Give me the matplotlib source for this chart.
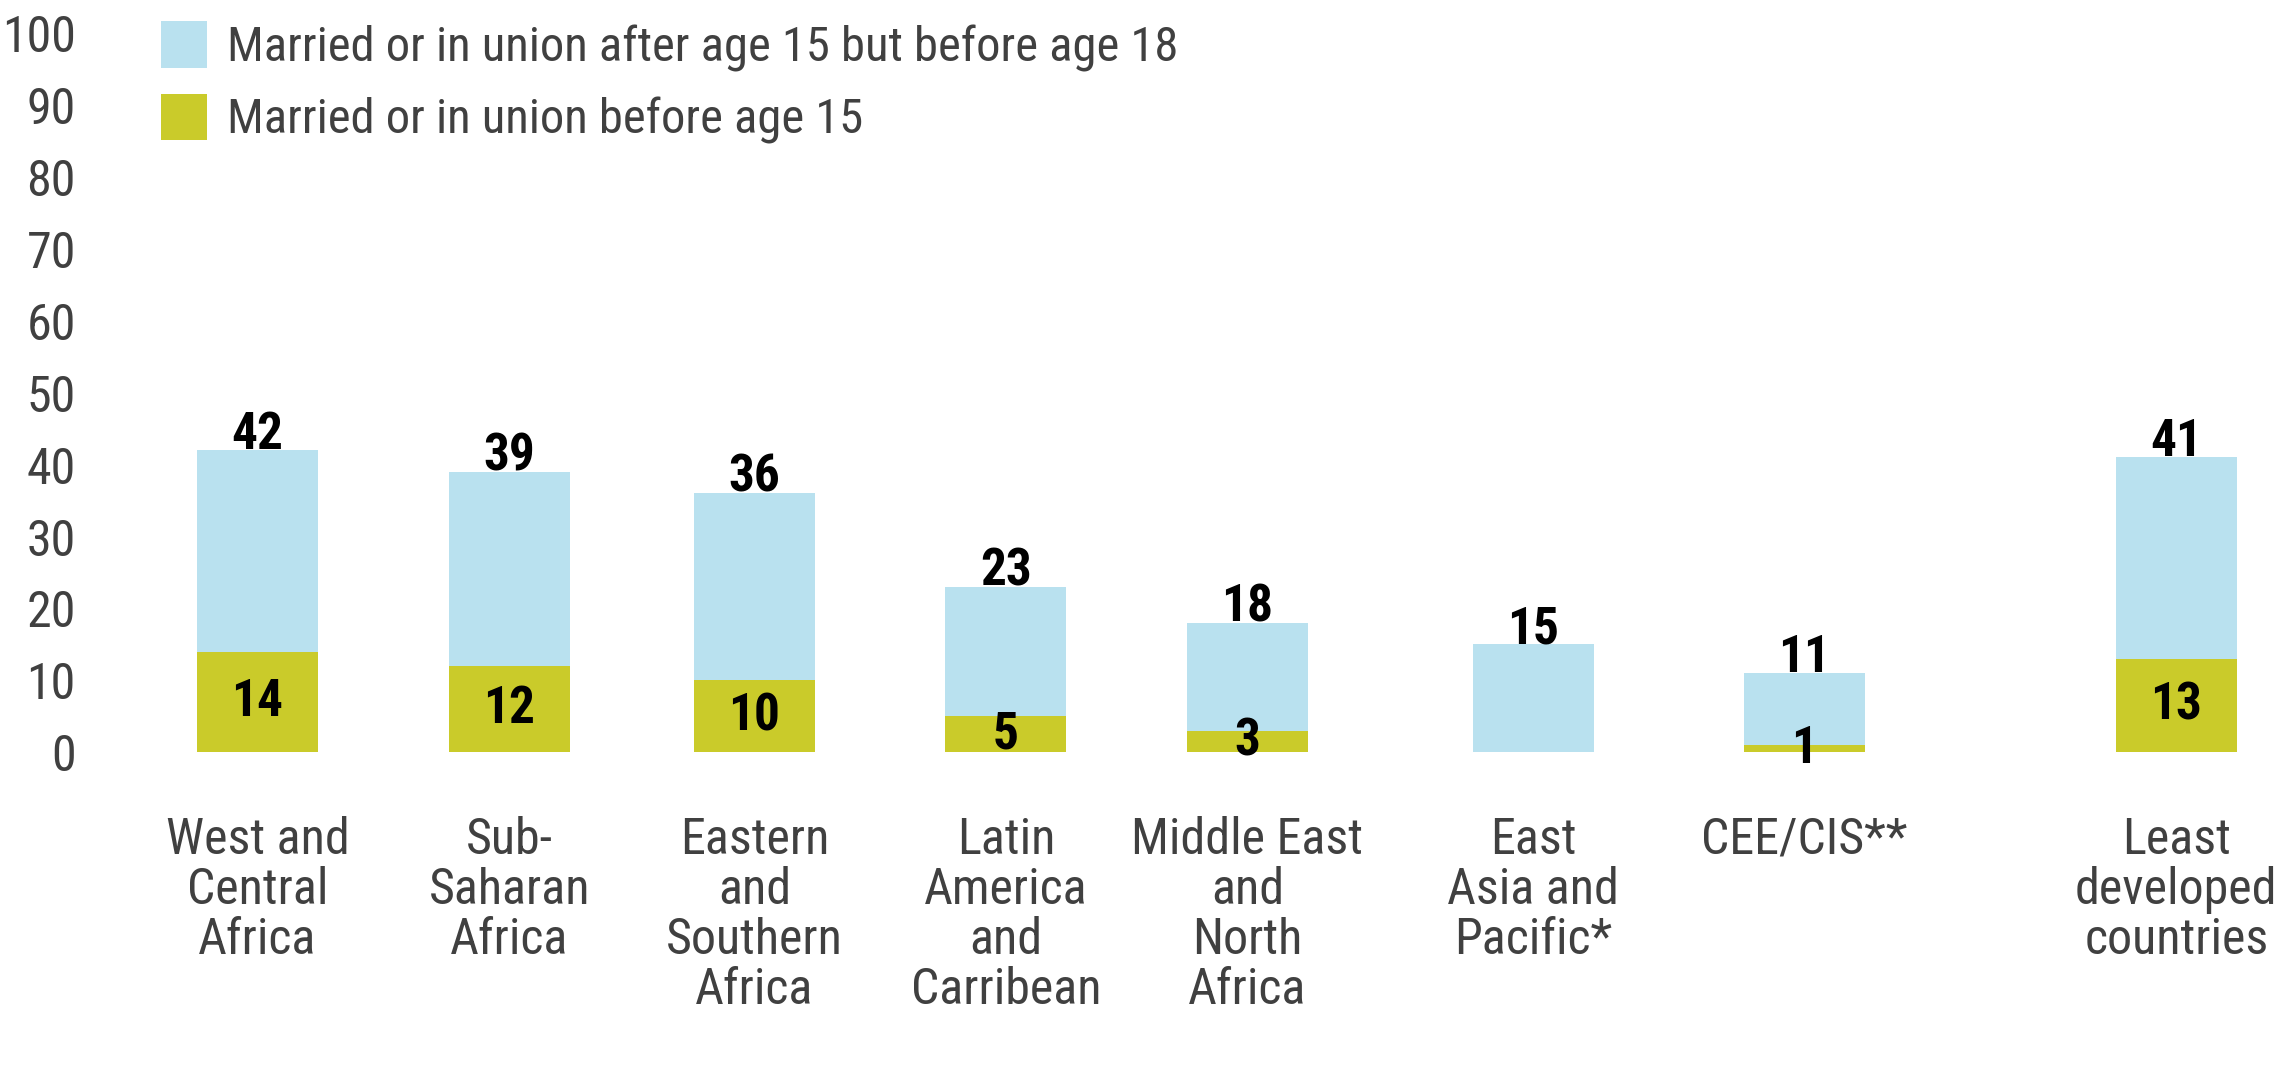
import matplotlib
matplotlib.use("Agg")
import matplotlib.pyplot as plt
from matplotlib import font_manager
import numpy as np

# region labels and values (% of women 20-24 married or in union)
regions = [
    "West and\nCentral\nAfrica",
    "Sub-\nSaharan\nAfrica",
    "Eastern\nand\nSouthern\nAfrica",
    "Latin\nAmerica\nand\nCarribean",
    "Middle East\nand\nNorth\nAfrica",
    "East\nAsia and\nPacific*",
    "CEE/CIS**",
    "Least\ndeveloped\ncountries",
]
before_18 = [42, 39, 36, 23, 18, 15, 11, 41]
before_15 = [14, 12, 10, 5, 3, np.nan, 1, 13]
yticks = list(range(0, 101, 10))

legend_labels = [
    "Married or in union after age 15 but before age 18",
    "Married or in union before age 15",
]

# layout (bar centres follow the uneven spacing of the original)
x_pos = [0, 1.008, 1.988, 2.994, 3.96, 5.104, 6.188, 7.676]
BAR_W = 0.484
BLUE = "#B9E1EF"
GREEN = "#CACB2A"
GREY = "#404040"

available = {f.name for f in font_manager.fontManager.ttflist}
for name in ["Roboto Condensed", "Liberation Sans Narrow", "Open Sans Condensed", "DejaVu Sans"]:
    if name in available:
        FONT = name
        break
plt.rcParams["font.family"] = [FONT, "DejaVu Sans"]

fig = plt.figure(figsize=(22.88, 10.67), dpi=100)
ax = fig.add_axes([0.0371, 0.2747, 0.9462, 0.6944])

b15 = np.nan_to_num(np.array(before_15, dtype=float))
rest = np.array(before_18) - b15
bars15 = ax.bar(x_pos, b15, width=BAR_W, color=GREEN, linewidth=0)
bars18 = ax.bar(x_pos, rest, bottom=b15, width=BAR_W, color=BLUE, linewidth=0)

for x, tot, v15 in zip(x_pos, before_18, before_15):
    ax.annotate(str(tot), (x, tot), xytext=(0, 1), textcoords="offset points",
                ha="center", va="baseline", fontsize=37, fontweight="bold", color="black")
    if not np.isnan(v15):
        ax.text(x, v15 / 2, str(v15), ha="center", va="center",
                fontsize=37, fontweight="bold", color="black")

ax.set_xlim(-0.69, 7.97)
ax.set_ylim(-3, 100)
ax.set_yticks(yticks)
ax.set_yticklabels([str(t) for t in yticks], fontsize=36, color=GREY)
ax.set_xticks(x_pos)
ax.set_xticklabels(regions, fontsize=36, color=GREY, linespacing=1.06, va="top")
ax.tick_params(axis="both", length=0)
ax.tick_params(axis="y", pad=6.5)
ax.tick_params(axis="x", pad=30)
for s in ax.spines.values():
    s.set_visible(False)

fig.legend([bars18, bars15], legend_labels, loc="upper left",
           bbox_to_anchor=(0.0704, 0.980), frameon=False, fontsize=35,
           labelcolor=GREY, handlelength=0.94, handleheight=1.1,
           handletextpad=0.42, labelspacing=0.45, borderpad=0, borderaxespad=0)

fig.savefig("out.png", dpi=100)
